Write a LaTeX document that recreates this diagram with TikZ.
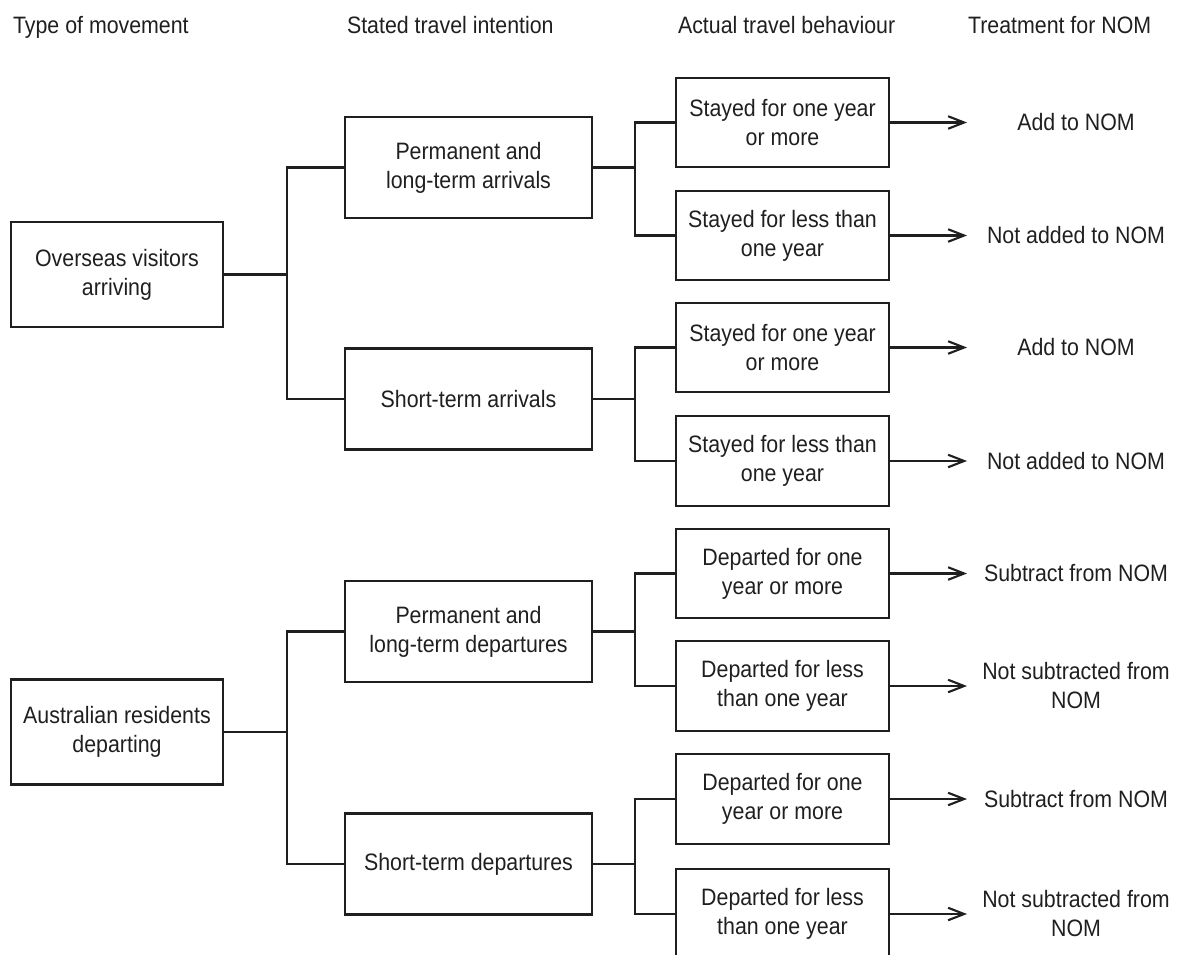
\documentclass[tikz,border=0pt]{standalone}
\usepackage{fontspec}
\setmainfont{Liberation Sans}[FakeStretch=0.9]
\usepackage{xcolor}
\usetikzlibrary{arrows.meta,positioning,calc}

\begin{document}
\begin{tikzpicture}[
  x=1cm,y=1cm,>={Straight Barb[length=3.2mm,width=2.5mm]},
  line width=1.2pt,color=black!88,
  flow/.style={->},
  link/.style={-},
  header/.style={anchor=base west,inner sep=0pt},
  typebox/.style={draw,minimum width=4.24cm,minimum height=2.1cm,
    align=center},
  intentbox/.style={draw,minimum width=4.94cm,minimum height=2.02cm,
    align=center},
  actualbox/.style={draw,minimum width=4.26cm,minimum height=1.79cm,
    align=center},
  result/.style={align=center},
  every node/.style={font=\fontsize{13.5}{16.5}\selectfont}
]
  \useasboundingbox (0,0) rectangle (23.62,-19.08);

  % column headers
  \node[header] (type-head) at (0.24,-0.66) {Type of movement};
  \node[header] (intent-head) at (6.92,-0.66) {Stated travel intention};
  \node[header] (actual-head) at (13.54,-0.66) {Actual travel behaviour};
  \node[header] (treat-head) at (19.34,-0.66) {Treatment for NOM};

  % type of movement
  \node[typebox] (overseas) at (2.34,-5.49) {Overseas visitors\\arriving};
  \node[typebox] (residents) at (2.34,-14.64)
    {Australian residents\\departing};

  % stated intention
  \node[intentbox] (pl-arr) at (9.37,-3.35)
    {Permanent and\\long-term arrivals};
  \node[intentbox] (st-arr) at (9.37,-7.98) {Short-term arrivals};
  \node[intentbox] (pl-dep) at (9.37,-12.63)
    {Permanent and\\long-term departures};
  \node[intentbox] (st-dep) at (9.37,-17.28) {Short-term departures};

  % actual behaviour
  \node[actualbox] (pl-arr-long) at (15.65,-2.45)
    {Stayed for one year\\or more};
  \node[actualbox] (pl-arr-short) at (15.65,-4.71)
    {Stayed for less than\\one year};
  \node[actualbox] (st-arr-long) at (15.65,-6.95)
    {Stayed for one year\\or more};
  \node[actualbox] (st-arr-short) at (15.65,-9.22)
    {Stayed for less than\\one year};
  \node[actualbox] (pl-dep-long) at (15.65,-11.47)
    {Departed for one\\year or more};
  \node[actualbox] (pl-dep-short) at (15.65,-13.72)
    {Departed for less\\than one year};
  \node[actualbox] (st-dep-long) at (15.65,-15.98)
    {Departed for one\\year or more};
  \node[actualbox] (st-dep-short) at (15.65,-18.28)
    {Departed for less\\than one year};

  % treatment for NOM
  \node[result] (pl-arr-long-nom) at (21.52,-2.45) {Add to NOM};
  \node[result] (pl-arr-short-nom) at (21.52,-4.71) {Not added to NOM};
  \node[result] (st-arr-long-nom) at (21.52,-6.95) {Add to NOM};
  \node[result] (st-arr-short-nom) at (21.52,-9.22) {Not added to NOM};
  \node[result] (pl-dep-long-nom) at (21.52,-11.47) {Subtract from NOM};
  \node[result] (pl-dep-short-nom) at (21.52,-13.72)
    {Not subtracted from\\NOM};
  \node[result] (st-dep-long-nom) at (21.52,-15.98) {Subtract from NOM};
  \node[result] (st-dep-short-nom) at (21.52,-18.28)
    {Not subtracted from\\NOM};

  % tree links
  \draw[link] (overseas.east) -- ++(1.26,0) |- (pl-arr.west);
  \draw[link] (overseas.east) -- ++(1.26,0) |- (st-arr.west);
  \draw[link] (residents.east) -- ++(1.26,0) |- (pl-dep.west);
  \draw[link] (residents.east) -- ++(1.26,0) |- (st-dep.west);

  \draw[link] (pl-arr.east) -- ++(0.84,0) |- (pl-arr-long.west);
  \draw[link] (pl-arr.east) -- ++(0.84,0) |- (pl-arr-short.west);
  \draw[link] (st-arr.east) -- ++(0.84,0) |- (st-arr-long.west);
  \draw[link] (st-arr.east) -- ++(0.84,0) |- (st-arr-short.west);
  \draw[link] (pl-dep.east) -- ++(0.84,0) |- (pl-dep-long.west);
  \draw[link] (pl-dep.east) -- ++(0.84,0) |- (pl-dep-short.west);
  \draw[link] (st-dep.east) -- ++(0.84,0) |- (st-dep-long.west);
  \draw[link] (st-dep.east) -- ++(0.84,0) |- (st-dep-short.west);

  % arrows to treatment
  \draw[flow] (pl-arr-long) -- (pl-arr-long -| treat-head.west);
  \draw[flow] (pl-arr-short) -- (pl-arr-short -| treat-head.west);
  \draw[flow] (st-arr-long) -- (st-arr-long -| treat-head.west);
  \draw[flow] (st-arr-short) -- (st-arr-short -| treat-head.west);
  \draw[flow] (pl-dep-long) -- (pl-dep-long -| treat-head.west);
  \draw[flow] (pl-dep-short) -- (pl-dep-short -| treat-head.west);
  \draw[flow] (st-dep-long) -- (st-dep-long -| treat-head.west);
  \draw[flow] (st-dep-short) -- (st-dep-short -| treat-head.west);
\end{tikzpicture}
\end{document}
